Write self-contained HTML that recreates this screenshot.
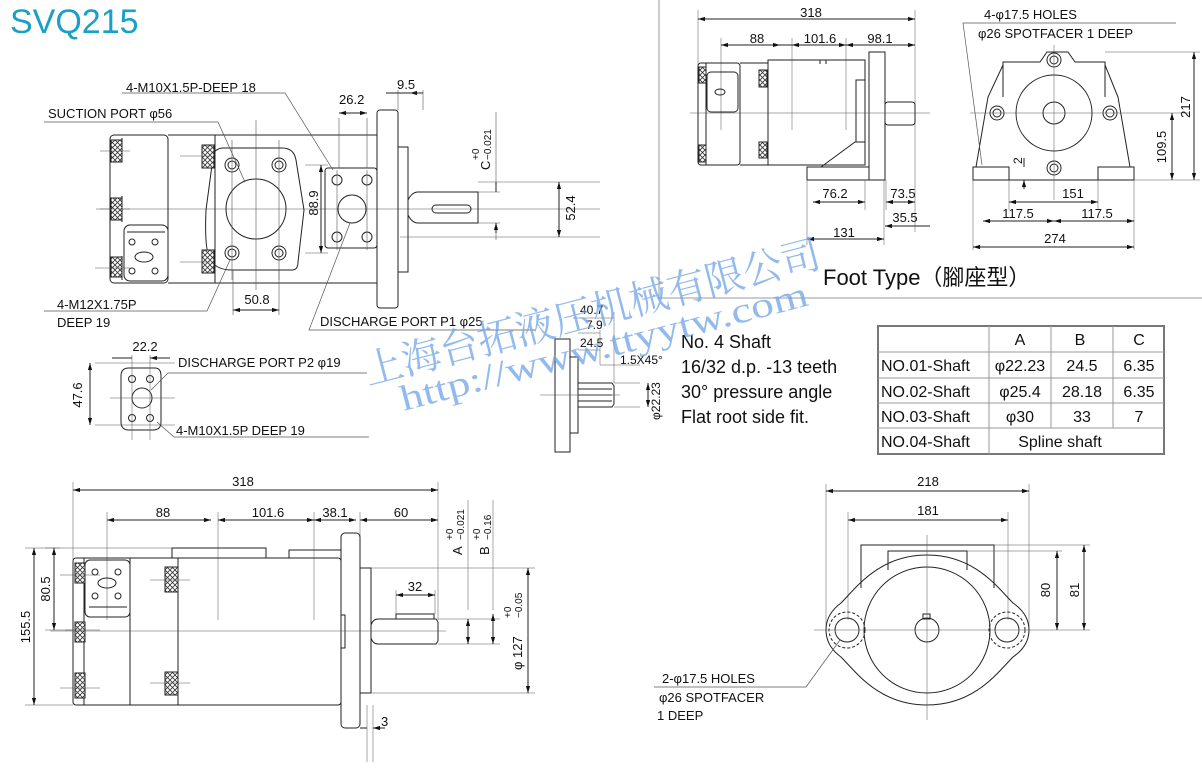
<!DOCTYPE html>
<html><head><meta charset="utf-8"><style>
html,body{margin:0;padding:0;background:#fff;}
svg{display:block;}
text{font-family:"Liberation Sans",Arial,sans-serif;fill:#111;}
</style></head><body>
<svg width="1202" height="768" viewBox="0 0 1202 768" xmlns="http://www.w3.org/2000/svg">
<defs>
<pattern id="h" width="5" height="5" patternUnits="userSpaceOnUse">
<rect width="5" height="5" fill="#fff"/><path d="M0 0L5 5M5 0L0 5" stroke="#333" stroke-width="0.8"/></pattern>
<marker id="a" viewBox="0 0 10 10" refX="10" refY="5" markerWidth="7" markerHeight="7" orient="auto-start-reverse"><path d="M0 2L10 5L0 8z" fill="#111"/></marker>
</defs>
<g fill="none" stroke="#222" stroke-width="1">

<text x="10" y="33" style="font-size:34px;fill:#1a9fc9;stroke:none">SVQ215</text>

<!-- frame -->
<path d="M659 0V298H1202" stroke="#999"/>

<!-- ========== TOP LEFT VIEW ========== -->
<path d="M96 209H600" stroke="#555" stroke-width="0.6"/>
<rect x="110" y="135" width="58" height="148" rx="4"/>
<path d="M168 135H377M168 283H377"/>
<path d="M215 135V283" />
<path d="M222 148Q210 150 212 165L206 210Q204 255 212 262Q218 270 232 270H292Q298 270 298 262L304 210L296 160Q294 148 282 148Z"/>
<circle cx="256" cy="209" r="30"/>
<g>
<circle cx="232" cy="165" r="7"/><circle cx="232" cy="165" r="4"/>
<circle cx="279" cy="165" r="7"/><circle cx="279" cy="165" r="4"/>
<circle cx="232" cy="253" r="7"/><circle cx="232" cy="253" r="4"/>
<circle cx="279" cy="253" r="7"/><circle cx="279" cy="253" r="4"/>
</g>
<path d="M232 140V280M279 140V280M256 120V290" stroke="#555" stroke-width="0.6"/>
<rect x="325" y="168" width="52" height="80" rx="3"/>
<circle cx="352" cy="209" r="14"/>
<circle cx="337" cy="180" r="5"/><circle cx="367" cy="180" r="5"/><circle cx="337" cy="237" r="5"/><circle cx="367" cy="237" r="5"/>
<path d="M337 170V250M367 170V250" stroke="#555" stroke-width="0.6"/>
<rect x="377" y="110" width="21" height="198" rx="3"/>
<rect x="398" y="147" width="10" height="125"/>
<path d="M408 200Q412 192 418 192H478V223H418Q412 223 408 215"/>
<rect x="432" y="205" width="39" height="8" rx="4"/>
<rect x="111" y="140" width="11" height="22" fill="url(#h)"/>
<rect x="111" y="198" width="11" height="22" fill="url(#h)"/>
<rect x="111" y="257" width="11" height="20" fill="url(#h)"/>
<rect x="202" y="145" width="12" height="23" fill="url(#h)"/>
<rect x="202" y="250" width="12" height="23" fill="url(#h)"/>
<path d="M122 138V162M122 196V222M122 256V280" />
<rect x="124" y="225" width="44" height="56" rx="6"/>
<path d="M127 232H165"/>
<ellipse cx="144" cy="257" rx="9" ry="5"/>
<circle cx="132" cy="242" r="3"/><circle cx="155" cy="242" r="3"/><circle cx="132" cy="271" r="3"/><circle cx="155" cy="271" r="3"/>
<path d="M100 151H130M100 209H130M95 268H130M180 156H210M180 262H210" stroke="#555" stroke-width="0.6"/>
<!-- dims -->
<path d="M339 118V168M367 118V168M398 90V110M423 90V110" stroke="#555" stroke-width="0.6"/>
<path d="M339 113H367" marker-start="url(#a)" marker-end="url(#a)"/>
<text x="339" y="104" style="font-size:13px;stroke:none">26.2</text>
<path d="M386 93H398M423 93H410" marker-end="url(#a)"/>
<path d="M398 93H423"/>
<text x="397" y="89" style="font-size:13px;stroke:none">9.5</text>
<path d="M305 165H328M305 253H328" stroke="#555" stroke-width="0.6"/>
<path d="M321 165V253" marker-start="url(#a)" marker-end="url(#a)"/>
<text transform="translate(318,203) rotate(-90)" text-anchor="middle" style="font-size:13px;stroke:none">88.9</text>
<path d="M478 192H500M478 223H500" stroke="#555" stroke-width="0.6"/>
<path d="M496 112V182M496 233V240" stroke="#555" stroke-width="0.6"/>
<path d="M496 182V192M496 233V223" marker-end="url(#a)"/>
<text transform="translate(490,170) rotate(-90)" style="font-size:13px;stroke:none">C</text>
<text transform="translate(479,160) rotate(-90)" style="font-size:10px;stroke:none">+0</text>
<text transform="translate(491,160) rotate(-90)" style="font-size:10px;stroke:none">−0.021</text>
<path d="M478 182H600M400 237H600" stroke="#555" stroke-width="0.6"/>
<path d="M559 182V237" marker-start="url(#a)" marker-end="url(#a)"/>
<text transform="translate(575,208) rotate(-90)" text-anchor="middle" style="font-size:13px;stroke:none">52.4</text>
<path d="M233 270V315M279 270V315" stroke="#555" stroke-width="0.6"/>
<path d="M233 310H279" marker-start="url(#a)" marker-end="url(#a)"/>
<text x="257" y="304" text-anchor="middle" style="font-size:13px;stroke:none">50.8</text>
<!-- labels -->
<path d="M122 93H285L333 170" stroke="#555" stroke-width="0.7"/>
<text x="126" y="92" style="font-size:13px;stroke:none">4-M10X1.5P-DEEP 18</text>
<path d="M44 122H218L245 182" stroke="#555" stroke-width="0.7"/>
<text x="48" y="118" style="font-size:13px;stroke:none">SUCTION PORT  φ56</text>
<path d="M44 311H207L230 260" stroke="#555" stroke-width="0.7"/>
<text x="57" y="309" style="font-size:13px;stroke:none">4-M12X1.75P</text>
<text x="57" y="327" style="font-size:13px;stroke:none">DEEP 19</text>
<path d="M536 330H309L350 223" stroke="#555" stroke-width="0.7"/>
<text x="320" y="326" style="font-size:13px;stroke:none">DISCHARGE PORT P1  φ25</text>

<!-- P2 -->
<path d="M121 376Q121 368 129 368H155Q161 368 161 376V422Q161 430 153 430H129Q121 430 121 422Z"/>
<circle cx="142" cy="398" r="10"/>
<circle cx="132" cy="379" r="3.5"/><circle cx="150" cy="379" r="3.5"/><circle cx="132" cy="418" r="3.5"/><circle cx="150" cy="418" r="3.5"/>
<path d="M132 355V440M150 355V440M110 398H175M95 363H175M95 425H175" stroke="#555" stroke-width="0.5"/>
<path d="M112 358H132M170 358H150" marker-end="url(#a)"/>
<text x="145" y="351" text-anchor="middle" style="font-size:13px;stroke:none">22.2</text>
<path d="M90 363V425" marker-start="url(#a)" marker-end="url(#a)"/>
<text transform="translate(82,395) rotate(-90)" text-anchor="middle" style="font-size:13px;stroke:none">47.6</text>
<path d="M367 373H168L151 390" stroke="#555" stroke-width="0.7"/>
<text x="178" y="367" style="font-size:13px;stroke:none">DISCHARGE PORT P2  φ19</text>
<path d="M369 437H174L157 422" stroke="#555" stroke-width="0.7"/>
<text x="176" y="435" style="font-size:13px;stroke:none">4-M10X1.5P DEEP 19</text>

<!-- spline detail -->
<rect x="555" y="339" width="15" height="113"/>
<rect x="570" y="357" width="8" height="76"/>
<path d="M578 383H612L614 386V404L612 407H578M578 389H612M578 395H612M578 401H612"/>
<path d="M540 395H620" stroke="#555" stroke-width="0.5"/>
<path d="M573 318H614M578 333H600M578 350H600M600 365H640M614 383H640M614 407H640M614 312V383M600 330V365" stroke="#555" stroke-width="0.5"/>
<text x="580" y="314" style="font-size:12px;stroke:none">40.7</text>
<text x="586" y="329" style="font-size:12px;stroke:none">7.9</text>
<text x="580" y="347" style="font-size:12px;stroke:none">24.5</text>
<text x="620" y="364" style="font-size:12px;stroke:none">1.5X45°</text>
<text transform="translate(660,420) rotate(-90)" style="font-size:12px;stroke:none">φ22.23</text>
<path d="M648 383V407" marker-start="url(#a)" marker-end="url(#a)"/>
<text x="681" y="348" style="font-size:18px;stroke:none">No. 4  Shaft</text>
<text x="681" y="373" style="font-size:18px;stroke:none">16/32 d.p. -13 teeth</text>
<text x="681" y="398" style="font-size:18px;stroke:none">30° pressure angle</text>
<text x="681" y="423" style="font-size:18px;stroke:none">Flat root side fit.</text>

<!-- table -->
<rect x="878" y="326" width="286" height="128" stroke="#777" stroke-width="2"/>
<path d="M878 352H1164M878 378H1164M878 403H1164M878 428H1164M989 326V454M1051 326V428M1113 326V428" stroke="#999"/>
<g style="font-size:16px" stroke="none" fill="#111">
<text x="1020" y="345" text-anchor="middle">A</text><text x="1080" y="345" text-anchor="middle">B</text><text x="1139" y="345" text-anchor="middle">C</text>
<text x="881" y="371">NO.01-Shaft</text><text x="1020" y="371" text-anchor="middle">φ22.23</text><text x="1082" y="371" text-anchor="middle">24.5</text><text x="1139" y="371" text-anchor="middle">6.35</text>
<text x="881" y="397">NO.02-Shaft</text><text x="1020" y="397" text-anchor="middle">φ25.4</text><text x="1082" y="397" text-anchor="middle">28.18</text><text x="1139" y="397" text-anchor="middle">6.35</text>
<text x="881" y="422">NO.03-Shaft</text><text x="1020" y="422" text-anchor="middle">φ30</text><text x="1082" y="422" text-anchor="middle">33</text><text x="1139" y="422" text-anchor="middle">7</text>
<text x="881" y="447">NO.04-Shaft</text><text x="1060" y="447" text-anchor="middle">Spline shaft</text>
</g>

<!-- ========== TOP RIGHT SIDE VIEW ========== -->
<path d="M698 10V65M915 10V180M721 38V130M792 38V130M846 38V130" stroke="#555" stroke-width="0.5"/>
<path d="M698 19H915" marker-start="url(#a)" marker-end="url(#a)"/>
<text x="811" y="17" text-anchor="middle" style="font-size:13px;stroke:none">318</text>
<path d="M721 45H915M721 45" />
<path d="M721 45H780" marker-start="url(#a)" marker-end="url(#a)"/>
<path d="M792 45H846" marker-start="url(#a)" marker-end="url(#a)"/>
<path d="M846 45H915" marker-start="url(#a)" marker-end="url(#a)"/>
<text x="757" y="43" text-anchor="middle" style="font-size:13px;stroke:none">88</text>
<text x="820" y="43" text-anchor="middle" style="font-size:13px;stroke:none">101.6</text>
<text x="880" y="43" text-anchor="middle" style="font-size:13px;stroke:none">98.1</text>
<rect x="698" y="63" width="42" height="102" rx="3"/>
<path d="M706 63V165"/>
<rect x="768" y="60" width="97" height="105"/>
<path d="M740 63H768M740 165H768"/>
<path d="M768 60H820V64M826 64V60H865"/>
<rect x="707" y="72" width="31" height="40" rx="4"/>
<ellipse cx="720" cy="92" rx="5" ry="3"/>
<rect x="699" y="67" width="7" height="16" fill="url(#h)"/>
<rect x="699" y="145" width="7" height="17" fill="url(#h)"/>
<rect x="759" y="70" width="8" height="17" fill="url(#h)"/>
<rect x="759" y="142" width="8" height="16" fill="url(#h)"/>
<path d="M856 80H865V142H856Z"/>
<rect x="869" y="52" width="16" height="128"/>
<path d="M807 167H869V180H807Z"/>
<path d="M821 167L855 142H865"/>
<rect x="885" y="102" width="30" height="23" rx="3"/>
<path d="M690 113H930" stroke="#555" stroke-width="0.5"/>
<path d="M807 180V245M865 180V210M886 180V210M884 180V245M915 180V232" stroke="#555" stroke-width="0.5"/>
<path d="M813 202H865" marker-start="url(#a)" marker-end="url(#a)"/>
<path d="M886 202H915" marker-start="url(#a)" marker-end="url(#a)"/>
<path d="M885 226H930M915 226" marker-start="url(#a)"/>
<path d="M807 239H884" marker-start="url(#a)" marker-end="url(#a)"/>
<text x="835" y="198" text-anchor="middle" style="font-size:13px;stroke:none">76.2</text>
<text x="903" y="198" text-anchor="middle" style="font-size:13px;stroke:none">73.5</text>
<text x="905" y="222" text-anchor="middle" style="font-size:13px;stroke:none">35.5</text>
<text x="844" y="237" text-anchor="middle" style="font-size:13px;stroke:none">131</text>

<!-- front (foot) -->
<path d="M976 167L988 97L1003 65V62H1040L1047 52H1068L1075 62H1105V65L1118 97L1130 167"/>
<path d="M1003 65V97M1105 65V97"/>
<rect x="973" y="167" width="36" height="13"/>
<rect x="1098" y="167" width="36" height="13"/>
<path d="M1009 180H1098"/>
<circle cx="1054" cy="113" r="38"/>
<circle cx="1054" cy="113" r="11"/>
<circle cx="1054" cy="60" r="7"/><circle cx="1054" cy="60" r="4"/>
<circle cx="1054" cy="168" r="7"/><circle cx="1054" cy="168" r="4"/>
<circle cx="997" cy="113" r="7"/><circle cx="997" cy="113" r="4"/>
<circle cx="1110" cy="113" r="7"/><circle cx="1110" cy="113" r="4"/>
<path d="M970 113H1190M1054 45V200" stroke="#555" stroke-width="0.5"/>
<path d="M1105 52H1200M1134 180H1200M973 180V250M1134 180V250M1009 180V210M1098 180V210" stroke="#555" stroke-width="0.5"/>
<path d="M1194 52V180" marker-start="url(#a)" marker-end="url(#a)"/>
<text transform="translate(1190,107) rotate(-90)" text-anchor="middle" style="font-size:13px;stroke:none">217</text>
<path d="M1172 113V180" marker-start="url(#a)" marker-end="url(#a)"/>
<text transform="translate(1166,147) rotate(-90)" text-anchor="middle" style="font-size:13px;stroke:none">109.5</text>
<path d="M1024 158V167M1024 189V180" marker-end="url(#a)"/>
<text transform="translate(1022,164) rotate(-90)" style="font-size:12px;stroke:none">2</text>
<path d="M1009 202H1098" marker-start="url(#a)" marker-end="url(#a)"/>
<text x="1073" y="198" text-anchor="middle" style="font-size:13px;stroke:none">151</text>
<path d="M983 221H1054" marker-start="url(#a)" marker-end="url(#a)"/>
<path d="M1054 221H1134" marker-start="url(#a)" marker-end="url(#a)"/>
<text x="1018" y="218" text-anchor="middle" style="font-size:13px;stroke:none">117.5</text>
<text x="1097" y="218" text-anchor="middle" style="font-size:13px;stroke:none">117.5</text>
<path d="M973 247H1134" marker-start="url(#a)" marker-end="url(#a)"/>
<text x="1055" y="243" text-anchor="middle" style="font-size:13px;stroke:none">274</text>
<path d="M1176 23H963L982 165" stroke="#555" stroke-width="0.7"/>
<text x="984" y="19" style="font-size:13px;stroke:none">4-φ17.5 HOLES</text>
<text x="978" y="38" style="font-size:13px;stroke:none">φ26 SPOTFACER 1 DEEP</text>
<text x="823" y="285" style="font-size:22px;stroke:none;font-family:'Liberation Sans','Noto Sans CJK TC',sans-serif">Foot Type（腳座型）</text>

<!-- ========== BOTTOM LEFT VIEW ========== -->
<path d="M73 482V560M438 482V620M107 512V620M218 512V620M314 512V620M360 512V620" stroke="#555" stroke-width="0.5"/>
<path d="M73 490H438" marker-start="url(#a)" marker-end="url(#a)"/>
<text x="243" y="486" text-anchor="middle" style="font-size:13px;stroke:none">318</text>
<path d="M107 520H211" marker-start="url(#a)" marker-end="url(#a)"/>
<path d="M218 520H314" marker-start="url(#a)" marker-end="url(#a)"/>
<path d="M314 520H356" marker-start="url(#a)" marker-end="url(#a)"/>
<path d="M360 520H438" marker-start="url(#a)" marker-end="url(#a)"/>
<text x="163" y="517" text-anchor="middle" style="font-size:13px;stroke:none">88</text>
<text x="268" y="517" text-anchor="middle" style="font-size:13px;stroke:none">101.6</text>
<text x="335" y="517" text-anchor="middle" style="font-size:13px;stroke:none">38.1</text>
<text x="401" y="517" text-anchor="middle" style="font-size:13px;stroke:none">60</text>
<rect x="73" y="558" width="268" height="147" rx="3"/>
<path d="M84 558V705M130 558V705M178 558V705"/>
<path d="M172 558V548H266V558M289 558V550H341"/>
<rect x="85" y="560" width="45" height="57" rx="5"/>
<path d="M89 607H127"/>
<ellipse cx="107" cy="583" rx="9" ry="5"/>
<circle cx="95" cy="572" r="3"/><circle cx="118" cy="572" r="3"/><circle cx="95" cy="596" r="3"/><circle cx="118" cy="596" r="3"/>
<rect x="75" y="563" width="10" height="20" fill="url(#h)"/>
<rect x="75" y="622" width="10" height="20" fill="url(#h)"/>
<rect x="75" y="673" width="10" height="25" fill="url(#h)"/>
<rect x="165" y="567" width="13" height="25" fill="url(#h)"/>
<rect x="165" y="672" width="13" height="23" fill="url(#h)"/>
<path d="M60 575H100M65 630H100M60 688H100M150 580H190M150 683H190" stroke="#555" stroke-width="0.5"/>
<rect x="341" y="533" width="19" height="195" rx="4"/>
<rect x="341" y="615" width="4" height="33"/>
<rect x="360" y="568" width="11" height="125"/>
<path d="M371 625Q373 619 378 619H436L438 622V641L436 644H378Q373 644 371 638"/>
<rect x="396" y="614" width="38" height="5"/>
<path d="M50 631H446" stroke="#555" stroke-width="0.5"/>
<path d="M25 548H172M45 548H60M25 705H73M45 630H73" stroke="#555" stroke-width="0.5"/>
<path d="M34 548V705" marker-start="url(#a)" marker-end="url(#a)"/>
<text transform="translate(30,627) rotate(-90)" text-anchor="middle" style="font-size:13px;stroke:none">155.5</text>
<path d="M54 548V630" marker-start="url(#a)" marker-end="url(#a)"/>
<text transform="translate(50,589) rotate(-90)" text-anchor="middle" style="font-size:13px;stroke:none">80.5</text>
<path d="M438 619H500M438 644H500M371 568H535M371 693H535" stroke="#555" stroke-width="0.5"/>
<path d="M468 500V610M493 500V610" stroke="#555" stroke-width="0.5"/>
<path d="M468 619V644" marker-start="url(#a)" marker-end="url(#a)"/>
<path d="M493 614V644" marker-start="url(#a)" marker-end="url(#a)"/>
<text transform="translate(462,555) rotate(-90)" style="font-size:13px;stroke:none">A</text>
<text transform="translate(453,540) rotate(-90)" style="font-size:10px;stroke:none">+0</text>
<text transform="translate(464,540) rotate(-90)" style="font-size:10px;stroke:none">−0.021</text>
<text transform="translate(489,555) rotate(-90)" style="font-size:13px;stroke:none">B</text>
<text transform="translate(480,540) rotate(-90)" style="font-size:10px;stroke:none">+0</text>
<text transform="translate(491,540) rotate(-90)" style="font-size:10px;stroke:none">−0.16</text>
<path d="M528 568V693" marker-start="url(#a)" marker-end="url(#a)"/>
<text transform="translate(522,670) rotate(-90)" style="font-size:13px;stroke:none">φ 127</text>
<text transform="translate(511,618) rotate(-90)" style="font-size:10px;stroke:none">+0</text>
<text transform="translate(522,618) rotate(-90)" style="font-size:10px;stroke:none">−0.05</text>
<path d="M396 590V614M435 590V614" stroke="#555" stroke-width="0.5"/>
<path d="M396 595H435" marker-start="url(#a)" marker-end="url(#a)"/>
<text x="415" y="591" text-anchor="middle" style="font-size:13px;stroke:none">32</text>
<path d="M367 705V762M373 705V762" stroke="#555" stroke-width="0.5"/>
<path d="M360 728H367M385 728H373" marker-end="url(#a)"/>
<text x="381" y="726" style="font-size:13px;stroke:none">3</text>

<!-- ========== BOTTOM RIGHT FRONT ========== -->
<path d="M826 484V630M1029 484V630M848 512V620M1008 512V620" stroke="#555" stroke-width="0.5"/>
<path d="M826 491H1029" marker-start="url(#a)" marker-end="url(#a)"/>
<text x="928" y="486" text-anchor="middle" style="font-size:13px;stroke:none">218</text>
<path d="M848 520H1008" marker-start="url(#a)" marker-end="url(#a)"/>
<text x="928" y="515" text-anchor="middle" style="font-size:13px;stroke:none">181</text>
<path d="M861 588V545H994V588"/>
<path d="M888 570V551H967V570"/>
<path d="M927 555C975 555 998 588 1013 603Q1029 614 1029 630Q1029 646 1013 657C998 672 975 705 927 705C879 705 856 672 841 657Q826 646 826 630Q826 614 841 603C856 588 879 555 927 555Z"/>
<circle cx="927" cy="630" r="63"/>
<circle cx="927" cy="630" r="12"/>
<rect x="923" y="614" width="7" height="5"/>
<circle cx="847" cy="630" r="12"/>
<circle cx="847" cy="630" r="18" stroke-dasharray="3 2"/>
<circle cx="1007" cy="630" r="12"/>
<circle cx="1007" cy="630" r="18" stroke-dasharray="3 2"/>
<path d="M814 630H1090M927 535V720" stroke="#555" stroke-width="0.5"/>
<path d="M994 545H1090M967 551H1062" stroke="#555" stroke-width="0.5"/>
<path d="M1057 551V630" marker-start="url(#a)" marker-end="url(#a)"/>
<path d="M1084 545V630" marker-start="url(#a)" marker-end="url(#a)"/>
<text transform="translate(1050,590) rotate(-90)" text-anchor="middle" style="font-size:13px;stroke:none">80</text>
<text transform="translate(1079,590) rotate(-90)" text-anchor="middle" style="font-size:13px;stroke:none">81</text>
<path d="M654 687H806L840 640" stroke="#555" stroke-width="0.7"/>
<text x="662" y="683" style="font-size:13px;stroke:none">2-φ17.5 HOLES</text>
<text x="659" y="702" style="font-size:13px;stroke:none">φ26 SPOTFACER</text>
<text x="657" y="720" style="font-size:13px;stroke:none">1 DEEP</text>
</g>

<!-- watermark -->
<g transform="translate(368,385) rotate(-14.6)" opacity="0.75">
<text x="0" y="0" textLength="470" lengthAdjust="spacingAndGlyphs" style="font-size:40px;fill:#6ea4e6;font-family:'Liberation Serif','Noto Serif CJK SC',serif">上海台拓液压机械有限公司</text>
<text x="28" y="34" textLength="420" lengthAdjust="spacingAndGlyphs" style="font-size:36px;fill:#6ea4e6;font-family:'Liberation Serif',serif">http://www.ttyytw.com</text>
</g>
</svg>
</body></html>
